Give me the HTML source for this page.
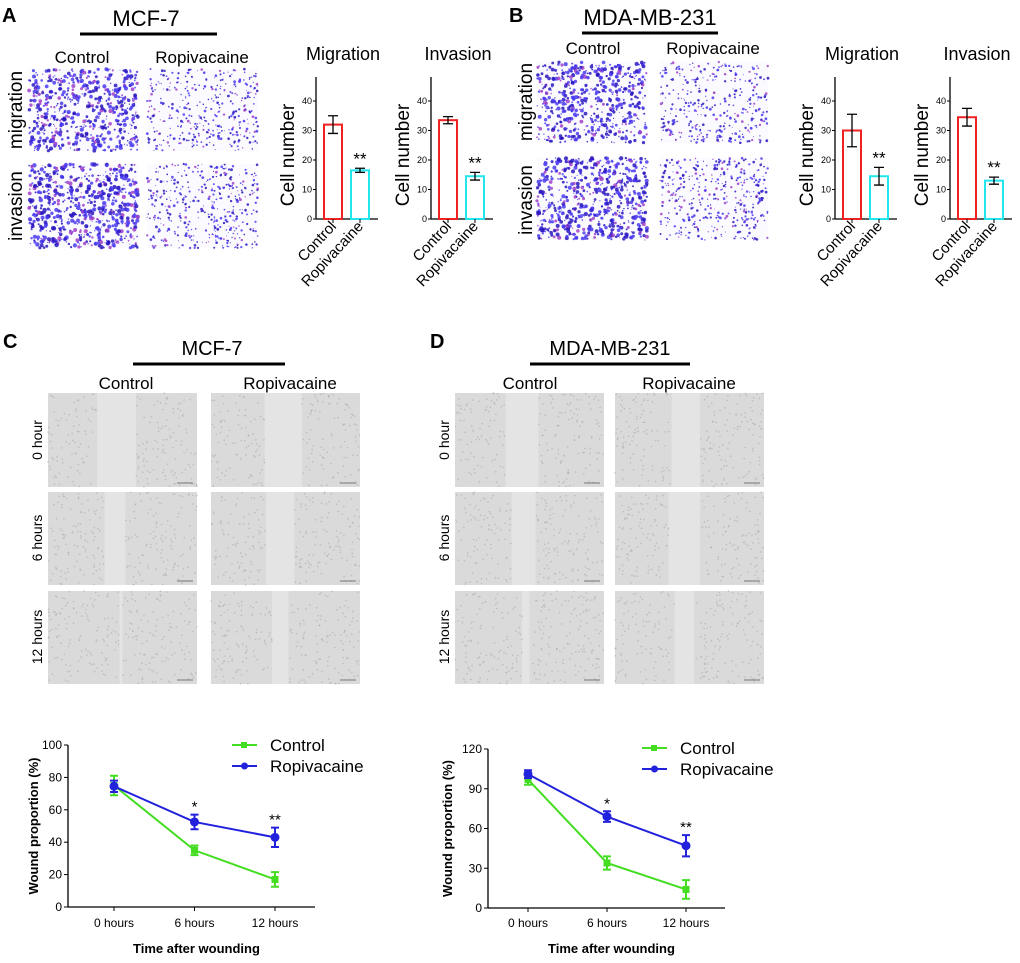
<!DOCTYPE html>
<html><head><meta charset="utf-8"><style>
html,body{margin:0;padding:0;background:#fff;}
svg{display:block;font-family:"Liberation Sans",Arial,sans-serif;}
</style></head><body>
<svg id="fig" width="1020" height="963" viewBox="0 0 1020 963" xmlns="http://www.w3.org/2000/svg">
<g font-weight="bold" font-size="20">
<text x="2" y="22">A</text>
<text x="509" y="22">B</text>
<text x="3" y="348">C</text>
<text x="430" y="348">D</text>
</g>
<g text-anchor="middle">
<text x="146" y="26" font-size="22">MCF-7</text>
<line x1="80" y1="34" x2="217" y2="34" stroke="#000" stroke-width="3"/>
<text x="82" y="63" font-size="17">Control</text>
<text x="202" y="63" font-size="17">Ropivacaine</text>
<text transform="translate(22,110) rotate(-90)" font-size="19">migration</text>
<text transform="translate(22,206) rotate(-90)" font-size="19">invasion</text>

<text x="650" y="25" font-size="22">MDA-MB-231</text>
<line x1="582" y1="33" x2="718" y2="33" stroke="#000" stroke-width="3"/>
<text x="593" y="54" font-size="17">Control</text>
<text x="713" y="54" font-size="17">Ropivacaine</text>
<text transform="translate(532,102) rotate(-90)" font-size="19">migration</text>
<text transform="translate(532,200) rotate(-90)" font-size="19">invasion</text>

<text x="212" y="355" font-size="20">MCF-7</text>
<line x1="133" y1="364" x2="285" y2="364" stroke="#000" stroke-width="3"/>
<text x="126" y="389" font-size="17">Control</text>
<text x="290" y="389" font-size="17">Ropivacaine</text>
<text transform="translate(42,440) rotate(-90)" font-size="14">0 hour</text>
<text transform="translate(42,538) rotate(-90)" font-size="14">6 hours</text>
<text transform="translate(42,637) rotate(-90)" font-size="14">12 hours</text>

<text x="610" y="355" font-size="20">MDA-MB-231</text>
<line x1="530" y1="364" x2="690" y2="364" stroke="#000" stroke-width="3"/>
<text x="530" y="389" font-size="17">Control</text>
<text x="689" y="389" font-size="17">Ropivacaine</text>
<text transform="translate(449,440) rotate(-90)" font-size="14">0 hour</text>
<text transform="translate(449,538) rotate(-90)" font-size="14">6 hours</text>
<text transform="translate(449,637) rotate(-90)" font-size="14">12 hours</text>
</g>
<g id="micro"></g>
<g id="charts"></g>
</svg>
<script>
// ---- bar chart data ----
const barCategories = ["Control", "Ropivacaine"];
const aMigrationValues = [32, 16.5];
const aMigrationErrors = [3, 0.7];
const aInvasionValues = [33.5, 14.5];
const aInvasionErrors = [1.2, 1.3];
const bMigrationValues = [30, 14.5];
const bMigrationErrors = [5.5, 3];
const bInvasionValues = [34.5, 13];
const bInvasionErrors = [3, 1.2];
const barTicks = [0, 10, 20, 30, 40];
// ---- line chart data ----
const timeCategories = ["0 hours", "6 hours", "12 hours"];
const cControl = [75, 35, 17];
const cControlErr = [6, 3, 4.5];
const cRopi = [74.5, 52.5, 43];
const cRopiErr = [3.5, 4.5, 6];
const cStars = ["", "*", "**"];
const cTicks = [0, 20, 40, 60, 80, 100];
const dControl = [97, 34, 14];
const dControlErr = [4, 5, 7];
const dRopi = [101, 69, 47];
const dRopiErr = [3, 4, 8];
const dStars = ["", "*", "**"];
const dTicks = [0, 30, 60, 90, 120];

const NS = "http://www.w3.org/2000/svg";
function mk(tag, attrs, parent) {
  const e = document.createElementNS(NS, tag);
  for (const k in attrs) e.setAttribute(k, attrs[k]);
  parent.appendChild(e);
  return e;
}
const charts = document.getElementById("charts");
const micro = document.getElementById("micro");

// deterministic texture generator (not data)
let seed = 12345;
function rnd() { seed = (seed * 16807) % 2147483647; return seed / 2147483647; }

function crystal(x, y, w, h, density, maxr, name) {
  const g = mk("g", {}, micro);
  
  
  mk("rect", {x, y, width: w, height: h, fill: "#fbfbff"}, g);
  const n = Math.round(w * h * density);
  for (let i = 0; i < n; i++) {
    const r = 0.5 + rnd() * maxr;
    const c = rnd() < 0.15 ? "#a040c8" : (rnd() < 0.5 ? "#2a18c0" : "#4a3af0");
    mk("circle", {cx: (x + rnd() * w).toFixed(1), cy: (y + rnd() * h).toFixed(1), r: r.toFixed(1), fill: c, opacity: 0.85}, g);
  }
}
function wound(x, y, w, h, g0, g1, name) {
  const g = mk("g", {}, micro);
  
  
  mk("rect", {x, y, width: w, height: h, fill: "#dadada"}, g);
  mk("rect", {x: x + g0 * w, y, width: (g1 - g0) * w, height: h, fill: "#e4e4e4"}, g);
  for (let i = 0; i < 260; i++) {
    const px = x + rnd() * w;
    if (px > x + g0 * w && px < x + g1 * w) continue;
    mk("circle", {cx: px.toFixed(1), cy: (y + rnd() * h).toFixed(1), r: 0.8, fill: "#a8a8a8", opacity: 0.6}, g);
  }
  mk("line", {x1: x + w - 20, y1: y + h - 4, x2: x + w - 4, y2: y + h - 4, stroke: "#777", "stroke-width": 1}, g);
}
crystal(29, 69, 109, 82, 0.07, 1.6, "a-migration-control-image");
crystal(147, 69, 111, 82, 0.04, 0.9, "a-migration-ropivacaine-image");
crystal(29, 164, 109, 84, 0.075, 1.7, "a-invasion-control-image");
crystal(147, 164, 111, 84, 0.045, 0.9, "a-invasion-ropivacaine-image");
crystal(537, 62, 110, 81, 0.065, 1.5, "b-migration-control-image");
crystal(660, 62, 108, 81, 0.04, 0.9, "b-migration-ropivacaine-image");
crystal(537, 158, 110, 82, 0.075, 1.6, "b-invasion-control-image");
crystal(660, 158, 108, 82, 0.045, 0.9, "b-invasion-ropivacaine-image");
const rowsY = [[393, 94], [492, 93], [591, 93]];
const cGaps = [[[0.33, 0.59], [0.36, 0.61]], [[0.38, 0.52], [0.37, 0.56]], [[0.48, 0.5], [0.41, 0.52]]];
const dGaps = [[[0.34, 0.56], [0.38, 0.57]], [[0.38, 0.54], [0.36, 0.57]], [[0.45, 0.5], [0.4, 0.53]]];
rowsY.forEach((r, i) => {
  wound(48, r[0], 149, r[1], cGaps[i][0][0], cGaps[i][0][1], "c-control-wound-" + i);
  wound(211, r[0], 149, r[1], cGaps[i][1][0], cGaps[i][1][1], "c-ropivacaine-wound-" + i);
  wound(455, r[0], 149, r[1], dGaps[i][0][0], dGaps[i][0][1], "d-control-wound-" + i);
  wound(615, r[0], 149, r[1], dGaps[i][1][0], dGaps[i][1][1], "d-ropivacaine-wound-" + i);
});

function barChart(opt) {
  const g = mk("g", {}, charts);
  
  
  const y0 = 219, ppu = 2.95, top = 77;
  const Y = v => y0 - v * ppu;
  mk("text", {x: opt.ax + 27, y: 60, "font-size": 18, "text-anchor": "middle"}, g).textContent = opt.title;
  const lab = mk("text", {transform: `translate(${opt.ax - 22},${155}) rotate(-90)`, "font-size": 19, "text-anchor": "middle"}, g);
  lab.textContent = "Cell number";
  
  
  mk("line", {x1: opt.ax, y1: top, x2: opt.ax, y2: y0, stroke: "#000", "stroke-width": 1.3}, g);
  mk("line", {x1: opt.ax, y1: y0, x2: opt.ax + 62, y2: y0, stroke: "#000", "stroke-width": 1.3}, g);
  barTicks.forEach(t => {
    mk("line", {x1: opt.ax - 3, y1: Y(t), x2: opt.ax, y2: Y(t), stroke: "#000"}, g);
    mk("text", {x: opt.ax - 4, y: Y(t) + 3, "font-size": 9, "text-anchor": "end"}, g).textContent = t;
  });
  const colors = ["#ee2222", "#22e6ee"];
  opt.values.forEach((v, i) => {
    const bx = opt.ax + 8 + i * 27, bw = 18, cx = bx + bw / 2;
    const b = mk("rect", {x: bx, y: Y(v), width: bw, height: v * ppu, fill: "none", stroke: colors[i], "stroke-width": 2}, g);
    
    
    const e = opt.errors[i];
    mk("path", {d: `M${cx},${Y(v + e)}V${Y(v - e)}M${cx - 5},${Y(v + e)}H${cx + 5}M${cx - 5},${Y(v - e)}H${cx + 5}`, stroke: "#000", "stroke-width": 1.3, fill: "none"}, g);
    mk("line", {x1: cx, y1: y0, x2: cx, y2: y0 + 4, stroke: "#000"}, g);
    mk("text", {transform: `translate(${cx + 4},${y0 + 8}) rotate(-47)`, "font-size": 15, "text-anchor": "end"}, g).textContent = barCategories[i];
    if (i === 1) mk("text", {x: cx, y: Y(v + e) - 4, "font-size": 17, "text-anchor": "middle"}, g).textContent = "**";
  });
}
barChart({name: "a-migration-chart", ax: 316, title: "Migration", values: aMigrationValues, errors: aMigrationErrors});
barChart({name: "a-invasion-chart", ax: 431, title: "Invasion", values: aInvasionValues, errors: aInvasionErrors});
barChart({name: "b-migration-chart", ax: 835, title: "Migration", values: bMigrationValues, errors: bMigrationErrors});
barChart({name: "b-invasion-chart", ax: 950, title: "Invasion", values: bInvasionValues, errors: bInvasionErrors});

function lineChart(o) {
  const g = mk("g", {}, charts);
  
  
  const ymax = o.ticks[o.ticks.length - 1];
  const Y = v => o.y0 - v / ymax * (o.y0 - o.ytop);
  const X = i => o.xs[0] + i * (o.xs[1] - o.xs[0]);
  mk("line", {x1: o.ax, y1: o.ytop, x2: o.ax, y2: o.y0, stroke: "#000", "stroke-width": 1.3}, g);
  mk("line", {x1: o.ax, y1: o.y0, x2: o.xend, y2: o.y0, stroke: "#000", "stroke-width": 1.3}, g);
  o.ticks.forEach(t => {
    mk("line", {x1: o.ax - 4, y1: Y(t), x2: o.ax, y2: Y(t), stroke: "#000"}, g);
    mk("text", {x: o.ax - 6, y: Y(t) + 4, "font-size": 12, "text-anchor": "end"}, g).textContent = t;
  });
  timeCategories.forEach((c, i) => {
    mk("line", {x1: X(i), y1: o.y0, x2: X(i), y2: o.y0 + 4, stroke: "#000"}, g);
    mk("text", {x: X(i), y: 927, "font-size": 12, "text-anchor": "middle"}, g).textContent = c;
  });
  const xt = mk("text", {x: (o.ax + o.xend) / 2 + 5, y: 953, "font-size": 13, "font-weight": "bold", "text-anchor": "middle"}, g);
  xt.textContent = "Time after wounding";
  
  
  const yt = mk("text", {transform: `translate(${o.ytx},${(o.ytop + o.y0) / 2}) rotate(-90)`, "font-size": 13, "font-weight": "bold", "text-anchor": "middle"}, g);
  yt.textContent = "Wound proportion (%)";
  
  
  const series = [[o.ctrl, o.ctrlErr, "#44dd22", "sq", "control"], [o.ropi, o.ropiErr, "#2222dd", "ci", "ropivacaine"]];
  series.forEach(s => {
    const [vals, errs, col, shape, nm] = s;
    const ln = mk("polyline", {points: vals.map((v, i) => X(i) + "," + Y(v)).join(" "), fill: "none", stroke: col, "stroke-width": 2}, g);
    
    
    vals.forEach((v, i) => {
      const x = X(i), e = errs[i];
      mk("path", {d: `M${x},${Y(v + e)}V${Y(v - e)}M${x - 4},${Y(v + e)}H${x + 4}M${x - 4},${Y(v - e)}H${x + 4}`, stroke: col, "stroke-width": 2, fill: "none"}, g);
      let m;
      if (shape === "sq") m = mk("rect", {x: x - 3.5, y: Y(v) - 3.5, width: 7, height: 7, fill: col}, g);
      else m = mk("circle", {cx: x, cy: Y(v), r: 4.5, fill: col}, g);
      
      
    });
  });
  o.stars.forEach((s, i) => {
    if (s) mk("text", {x: X(i), y: Y(o.ropi[i] + o.ropiErr[i]) - 3, "font-size": 15, "text-anchor": "middle"}, g).textContent = s;
  });
  [["Control", "#44dd22", "sq", o.ly], ["Ropivacaine", "#2222dd", "ci", o.ly + 21]].forEach(l => {
    const lg = mk("g", {}, g);
    
    
    mk("line", {x1: o.lx, y1: l[3], x2: o.lx + 25, y2: l[3], stroke: l[1], "stroke-width": 2}, lg);
    if (l[2] === "sq") mk("rect", {x: o.lx + 9, y: l[3] - 3, width: 6, height: 6, fill: l[1]}, lg);
    else mk("circle", {cx: o.lx + 12.5, cy: l[3], r: 3.5, fill: l[1]}, lg);
    mk("text", {x: o.lx + 38, y: l[3] + 6, "font-size": 17}, lg).textContent = l[0];
  });
}
lineChart({name: "c-wound-chart", ax: 68, ytop: 745, y0: 907, xend: 315, xs: [114, 194.5], ytx: 38,
  ticks: cTicks, ctrl: cControl, ctrlErr: cControlErr, ropi: cRopi, ropiErr: cRopiErr, stars: cStars, lx: 232, ly: 745});
lineChart({name: "d-wound-chart", ax: 488, ytop: 749, y0: 908, xend: 725, xs: [528, 607], ytx: 452,
  ticks: dTicks, ctrl: dControl, ctrlErr: dControlErr, ropi: dRopi, ropiErr: dRopiErr, stars: dStars, lx: 642, ly: 748});
</script>
</body></html>
